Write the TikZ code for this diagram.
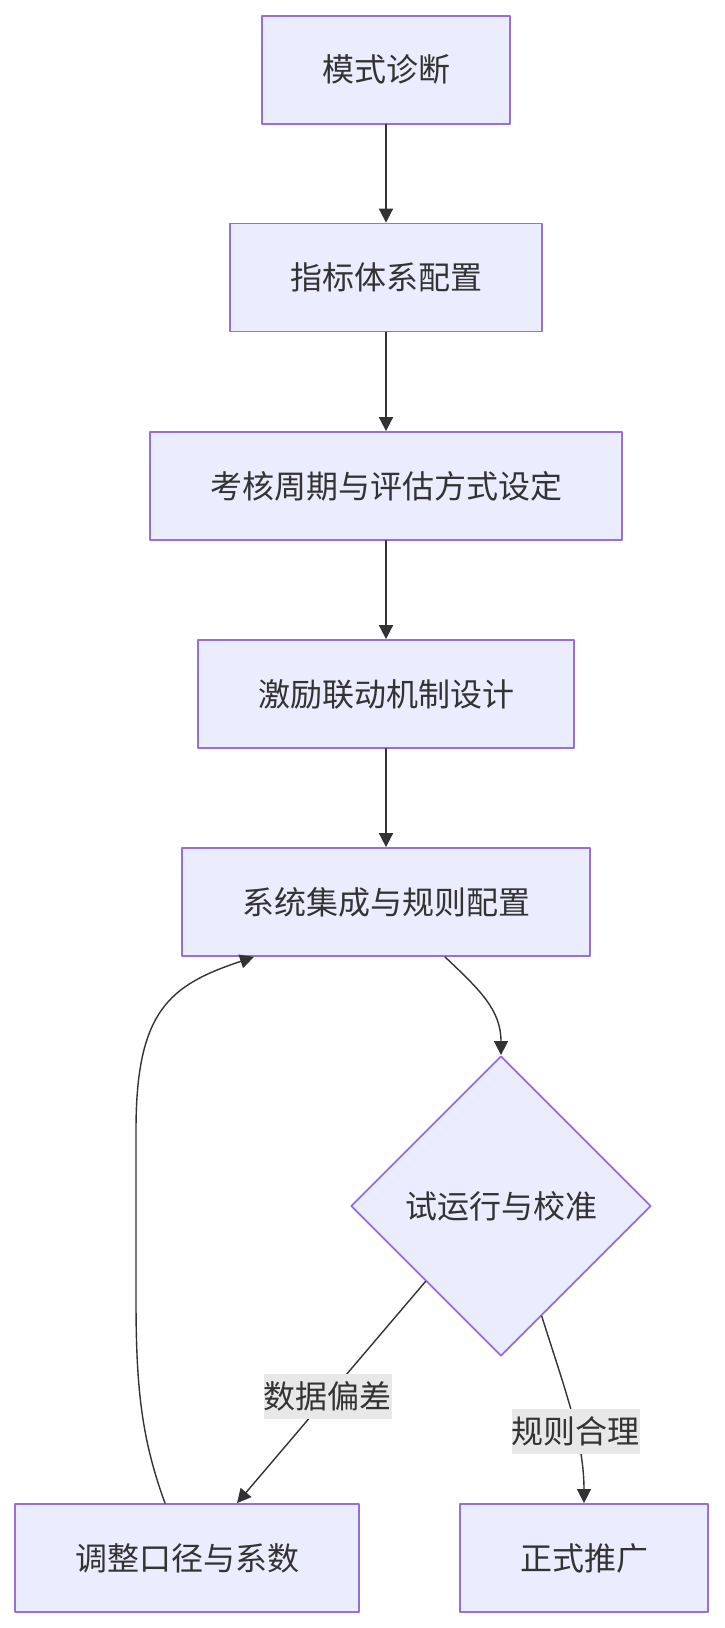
\documentclass[tikz,border=0pt]{standalone}
\usepackage{fontspec}
\newfontfamily\cjk{Noto Sans CJK SC}
\usetikzlibrary{arrows.meta,shapes.geometric,calc}
\definecolor{boxfill}{HTML}{ECECFF}
\definecolor{boxline}{HTML}{9370DB}
\definecolor{ink}{HTML}{333333}
\definecolor{labelbg}{HTML}{E8E8E8}
\begin{document}
\begin{tikzpicture}[
    x=1pt,
    y=-1pt,
    line cap=round,
    line join=round,
    every node/.style={
        font=\cjk\fontsize{32}{38}\selectfont,
        text=ink
    },
    stepbox/.style={
        draw=boxline,
        fill=boxfill,
        line width=1.8pt,
        minimum height=108,
        inner xsep=60
    },
    check/.style={
        diamond,
        aspect=1,
        draw=boxline,
        fill=boxfill,
        line width=1.8pt,
        minimum width=300,
        minimum height=300,
        inner sep=0pt
    },
    flow/.style={
        draw=ink,
        line width=1.8pt,
        -{Triangle[length=14pt,width=14pt]}
    },
    curved/.style={
        draw=ink,
        line width=1.4pt,
        -{Triangle[length=14pt,width=14pt]}
    },
    tag/.style={
        fill=labelbg,
        inner xsep=0pt,
        minimum height=45
    }
]

\useasboundingbox (0,0) rectangle (724,1628);

% =================================================
% Основная цепочка
% =================================================

\node[stepbox] (diag)  at (386,69.6)  {模式诊断};
\node[stepbox] (index) at (386,277.5) {指标体系配置};
\node[stepbox] (cycle) at (386,486)   {考核周期与评估方式设定};
\node[stepbox] (bonus) at (386,694)   {激励联动机制设计};
\node[stepbox] (integ) at (386,902)   {系统集成与规则配置};

% =================================================
% Проверка и ветви
% =================================================

\node[check]   (trial)  at (501,1206) {试运行与校准};
\node[stepbox] (adjust) at (187,1558) {调整口径与系数};
\node[stepbox] (launch) at (584,1558) {正式推广};

% =================================================
% Стрелки
% =================================================

\draw[flow] (diag)  -- (index);
\draw[flow] (index) -- (cycle);
\draw[flow] (cycle) -- (bonus);
\draw[flow] (bonus) -- (integ);

\draw[curved] ([xshift=59]integ.south)
    .. controls (480,990) and (501,1010) .. (trial.north);

\draw[curved] (trial.south west) -- ([xshift=50]adjust.north)
    node[tag, pos=0.52] {数据偏差};

\draw[curved] ($(trial.south)!0.27!(trial.east)$)
    .. controls (565,1390) and (584,1440) .. (launch.north)
    node[tag, pos=0.6] {规则合理};

% Обратная петля к интеграции
\draw[curved] ([xshift=-22]adjust.north)
    .. controls (142,1440) and (136,1390) .. (136,1300)
    -- (136,1130)
    .. controls (136,1010) and (170,985) .. ([xshift=-132]integ.south);

\end{tikzpicture}
\end{document}
